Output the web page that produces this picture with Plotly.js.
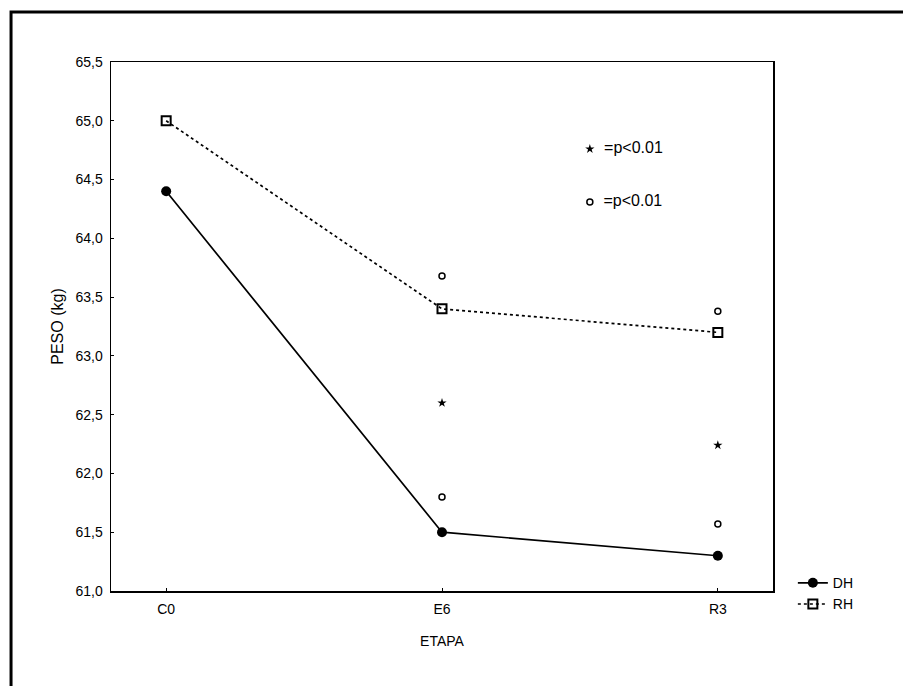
<!DOCTYPE html>
<html>
<head>
<meta charset="utf-8">
<script src="https://cdn.plot.ly/plotly-3.0.1.min.js"></script>
<style>html,body{margin:0;padding:0;background:#fff;}#chart{width:903px;height:686px;}</style>
</head>
<body>
<div id="chart"></div>
<script>
// ---- data ----
var categories = ['C0', 'E6', 'R3'];
var dhValues = [64.4, 61.5, 61.3];
var rhValues = [65.0, 63.4, 63.2];
// significance markers (category, value)
var starCats = ['E6', 'R3'];
var starValues = [62.60, 62.24];
var circleCats = ['E6', 'E6', 'R3', 'R3'];
var circleValues = [63.68, 61.80, 63.38, 61.57];
var yTickVals = [61.0, 61.5, 62.0, 62.5, 63.0, 63.5, 64.0, 64.5, 65.0, 65.5];
var keyText = '\u00a0\u00a0=p<0.01';

var idx = function (c) { return categories.indexOf(c); };
var font = 'Arial, "Liberation Sans", sans-serif';

var traces = [
  {
    x: categories.map(idx), y: dhValues, name: 'DH', mode: 'lines+markers',
    line: {color: '#000', width: 1.7},
    marker: {symbol: 'circle', size: 10, color: '#000'}
  },
  {
    x: categories.map(idx), y: rhValues, name: 'RH', mode: 'lines+markers',
    line: {color: '#000', width: 1.7, dash: 'dot'},
    marker: {symbol: 'square-open', size: 9, color: '#000', line: {width: 2}}
  },
  {
    x: starCats.map(idx), y: starValues, mode: 'markers', showlegend: false, hoverinfo: 'skip',
    marker: {symbol: 'star', size: 7, color: '#000'}
  },
  {
    x: circleCats.map(idx), y: circleValues, mode: 'markers', showlegend: false, hoverinfo: 'skip',
    marker: {symbol: 'circle-open', size: 6, color: '#000', line: {width: 1.5}}
  },
  // key markers with text
  {
    x: [1.536], y: [64.76], mode: 'markers+text', text: [keyText], textposition: 'middle right',
    textfont: {family: font, size: 16, color: '#000'}, showlegend: false, hoverinfo: 'skip',
    marker: {symbol: 'star', size: 7, color: '#000'}
  },
  {
    x: [1.536], y: [64.31], mode: 'markers+text', text: [keyText], textposition: 'middle right',
    textfont: {family: font, size: 16, color: '#000'}, showlegend: false, hoverinfo: 'skip',
    marker: {symbol: 'circle-open', size: 6, color: '#000', line: {width: 1.5}}
  }
];

var layout = {
  width: 903, height: 686,
  margin: {l: 111, r: 130, t: 62, b: 95},
  paper_bgcolor: '#fff', plot_bgcolor: '#fff',
  separators: ',.',
  font: {family: font, size: 14, color: '#000'},
  showlegend: true,
  legend: {
    x: 1.03, xanchor: 'left', y: 0.045, yanchor: 'top',
    font: {family: font, size: 14, color: '#000'},
    bgcolor: 'rgba(0,0,0,0)', tracegroupgap: 0
  },
  xaxis: {
    range: [-0.2, 2.2],
    tickmode: 'array', tickvals: categories.map(idx), ticktext: categories,
    showgrid: false, zeroline: false,
    showline: true, linecolor: '#000', linewidth: 1.5, mirror: true,
    ticks: 'inside', ticklen: 3, tickcolor: '#000',
    ticklabelstandoff: 5,
    tickfont: {family: font, size: 14, color: '#000'},
    title: {text: 'ETAPA', font: {family: font, size: 14, color: '#000'}, standoff: 20}
  },
  yaxis: {
    range: [61.0, 65.5],
    tickmode: 'array', tickvals: yTickVals, tickformat: '.1f',
    showgrid: false, zeroline: false,
    showline: true, linecolor: '#000', linewidth: 1.5, mirror: true,
    ticks: 'inside', ticklen: 3, tickcolor: '#000',
    ticklabelstandoff: 4,
    tickfont: {family: font, size: 14, color: '#000'},
    title: {text: 'PESO (kg)', font: {family: font, size: 16, color: '#000'}, standoff: 8}
  },
  shapes: [
    {type: 'rect', xref: 'paper', yref: 'paper',
     x0: -0.151, x1: 1.25, y0: -0.25, y1: 1.0945,
     line: {color: '#000', width: 3}, fillcolor: 'rgba(0,0,0,0)', layer: 'below'}
  ]
};

Plotly.newPlot('chart', traces, layout, {displayModeBar: false, staticPlot: true});
</script>
</body>
</html>
